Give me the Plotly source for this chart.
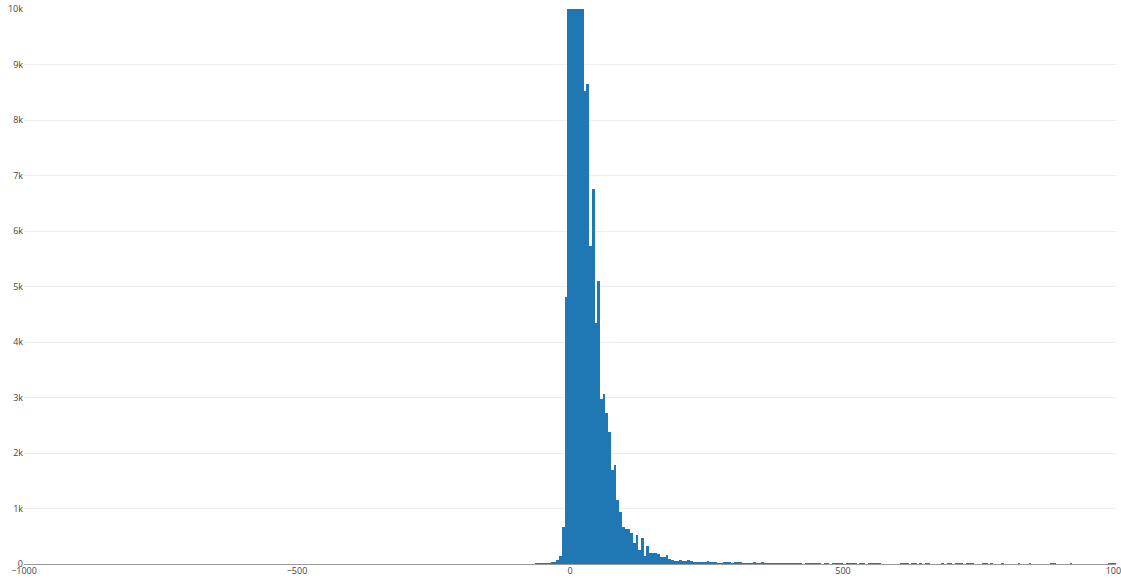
import plotly.graph_objects as go

# Histogram bins: first left edge and bin width
bin_start = -65
bin_size = 5

# Counts per 5-unit bin from -65 upward
counts_core = [
    8, 8, 10, 10, 12, 15, 28, 32, 72, 145,            # -65 .. -20
    662, 4814, 10800, 13500, 14200, 12600, 11800, 10400,  # -15 .. 20
    8526, 8640, 5728, 6763, 4345, 5100, 2972, 3063,   # 25 .. 60
    2720, 2383, 1697, 1775, 1155, 930, 660, 626,      # 65 .. 100
    632, 554, 373, 530, 260, 468, 150, 318,           # 105 .. 140
    193, 205, 193, 180, 120, 120, 162, 96,            # 145 .. 180
    72, 54, 48, 78, 60, 56, 78, 60,                   # 185 .. 220
    40, 30, 30, 30, 45, 50, 25, 36,                   # 225 .. 260
    36, 15, 12, 25, 36, 30, 12, 24,                   # 265 .. 300
    24, 24, 12, 8, 8, 10, 20, 6,                      # 305 .. 340
    6, 20, 6,                                         # 345 .. 355
]

# Sparse long tail, 360 .. 995
counts_tail = [
    14, 12, 16, 10, 12, 14, 9, 12, 10, 11,
    10, 12, 9, 0, 10, 8, 11, 9, 8, 10,
    0, 9, 8, 0, 10, 8, 9, 7, 0, 8,
    9, 7, 8, 0, 8, 7, 0, 8, 7, 9,
    7, 8, 0, 0, 0, 0, 0, 0, 0, 7,
    8, 6, 0, 7, 6, 0, 7, 0, 6, 7,
    0, 0, 0, 0, 7, 0, 6, 7, 0, 6,
    7, 6, 0, 6, 7, 6, 0, 0, 0, 6,
    7, 0, 6, 0, 0, 0, 6, 0, 0, 0,
    0, 0, 6, 0, 0, 0, 6, 0, 0, 0,
    0, 0, 0, 0, 6, 7, 0, 0, 0, 0,
    0, 6, 0, 0, 0, 0, 0, 0, 0, 0,
    0, 0, 0, 0, 0, 6, 6, 5,
]

counts = counts_core + counts_tail
centers = [bin_start + bin_size * (i + 0.5) for i in range(len(counts))]

fig = go.Figure(
    go.Histogram(
        x=centers,
        y=counts,
        histfunc="sum",
        xbins=dict(start=-1000, end=1000, size=bin_size),
        marker=dict(color="#1f77b4"),
    )
)

fig.update_layout(
    template="none",
    width=1121,
    height=578,
    margin=dict(l=24, r=5, t=9, b=14),
    bargap=0,
    paper_bgcolor="white",
    plot_bgcolor="white",
    font=dict(family="Open Sans, verdana, arial, sans-serif", size=9, color="#444"),
    showlegend=False,
    xaxis=dict(
        range=[-1000, 1000],
        dtick=500,
        showgrid=False,
        zeroline=False,
        showline=False,
        ticks="",
        tickfont=dict(size=9),
        ticklabeloverflow="allow",
    ),
    yaxis=dict(
        range=[0, 10000],
        dtick=1000,
        showgrid=True,
        gridcolor="#eee",
        zeroline=True,
        zerolinecolor="#999",
        zerolinewidth=1,
        ticks="",
        tickfont=dict(size=9),
    ),
)

fig.write_html("out.html")
